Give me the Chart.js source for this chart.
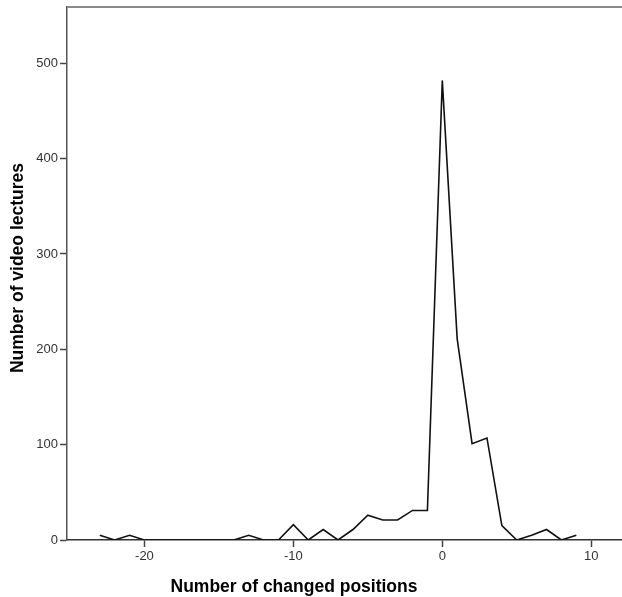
<!DOCTYPE html>
<html>
<head>
<meta charset="utf-8">
<script src="https://cdn.jsdelivr.net/npm/chart.js@4/dist/chart.umd.min.js"></script>
<style>
  html, body { margin: 0; padding: 0; background: #fff; }
  #wrap { width: 622px; height: 597px; }
</style>
</head>
<body>
<div id="wrap"><canvas id="chart"></canvas></div>
<script>
// changed positions (x) and number of video lectures (y)
const positions = [-23, -22, -21, -20, -19, -18, -17, -16, -15, -14, -13, -12, -11, -10, -9, -8, -7,
                   -6, -5, -4, -3, -2, -1, 0, 1, 2, 3, 4, 5, 6, 7, 8, 9];
const lectures = [5, 0, 5, 0, 0, 0, 0, 0, 0, 0, 5, 0, 0, 16, 0, 11, 0,
                  11, 26, 21, 21, 31, 31, 482, 211, 101, 107, 15, 0, 5, 11, 0, 5];
const xTicks = [-20, -10, 0, 10];
const yTicks = [0, 100, 200, 300, 400, 500];
const xTitle = 'Number of changed positions';
const yTitle = 'Number of video lectures';

const tickFont = { family: '"Liberation Sans", Arial, sans-serif', size: 13 };
const titleFont = 'bold 17.5px "Liberation Sans", Arial, sans-serif';

// axis titles + top frame line
const decor = {
    id: 'decor',
    afterDraw(chart) {
        const { ctx, chartArea } = chart;
        ctx.save();
        ctx.strokeStyle = '#8a8a8a';
        ctx.lineWidth = 2;
        ctx.beginPath();
        ctx.moveTo(chartArea.left, chartArea.top);
        ctx.lineTo(chartArea.right + 1, chartArea.top);
        ctx.stroke();

        ctx.fillStyle = '#000';
        ctx.font = titleFont;
        ctx.textAlign = 'center';
        ctx.textBaseline = 'alphabetic';
        ctx.fillText(xTitle, 294, 592);

        ctx.translate(23, 268);
        ctx.rotate(-Math.PI / 2);
        ctx.fillText(yTitle, 0, 0);
        ctx.restore();
    }
};

new Chart(document.getElementById('chart').getContext('2d'), {
    type: 'line',
    data: {
        datasets: [{
            data: positions.map((p, i) => ({ x: p, y: lectures[i] })),
            borderColor: '#111',
            borderWidth: 1.6,
            pointRadius: 0,
            fill: false,
            tension: 0
        }]
    },
    options: {
        responsive: true,
        maintainAspectRatio: false,
        animation: false,
        layout: { padding: { top: 7, right: 1, left: 0, bottom: 0 } },
        plugins: { legend: { display: false }, tooltip: { enabled: false } },
        scales: {
            x: {
                type: 'linear',
                min: -25.2,
                max: 12.0,
                afterBuildTicks: axis => { axis.ticks = xTicks.map(v => ({ value: v })); },
                afterFit: scale => { scale.height = 57; scale.paddingLeft = 0; scale.paddingRight = 0; },
                grid: { drawOnChartArea: false, tickLength: 7, tickColor: '#444', tickWidth: 1.5 },
                border: { color: '#333', width: 1.5 },
                ticks: { color: '#333', font: tickFont, padding: 2, maxRotation: 0, autoSkip: false }
            },
            y: {
                min: 0,
                max: 559,
                afterBuildTicks: axis => { axis.ticks = yTicks.map(v => ({ value: v })); },
                afterFit: scale => { scale.width = 67; scale.paddingTop = 0; scale.paddingBottom = 0; },
                grid: { drawOnChartArea: false, tickLength: 7, tickColor: '#444', tickWidth: 1.5 },
                border: { color: '#555', width: 1.5 },
                ticks: { color: '#333', font: tickFont, padding: 2, autoSkip: false }
            }
        }
    },
    plugins: [decor]
});
</script>
</body>
</html>
